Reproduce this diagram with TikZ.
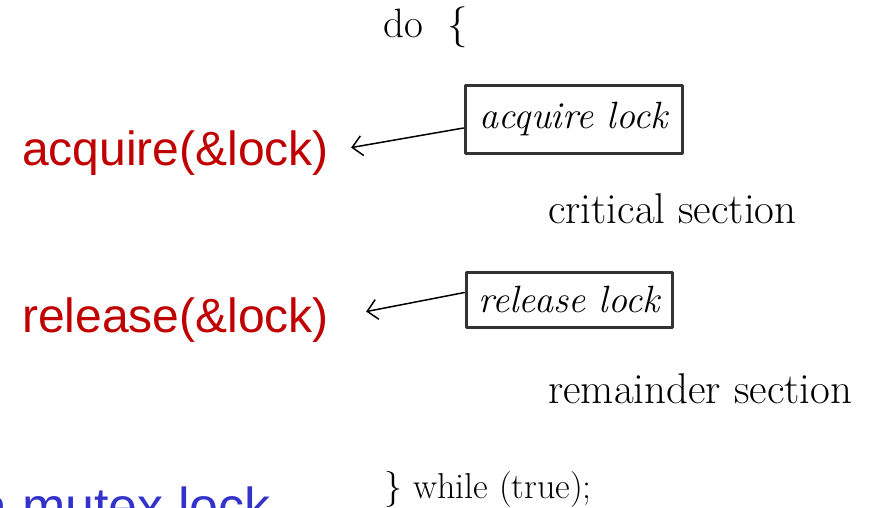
\documentclass[tikz,border=0pt]{standalone}
\usepackage{fontspec}
\newfontfamily\callfont{Liberation Sans}
\usetikzlibrary{arrows.meta}
\definecolor{callred}{HTML}{C00000}
\definecolor{noteblue}{HTML}{3333CC}
\definecolor{boxgray}{HTML}{333333}
\begin{document}
\begin{tikzpicture}[x=1pt, y=-1pt, line join=round, line cap=round,
	>={Straight Barb[length=10pt,width=20pt]},
	code/.style={font=\fontsize{43}{46}\selectfont, inner sep=0pt, anchor=base west},
	lockbox/.style={draw=boxgray, line width=3pt, inner sep=0pt, font=\fontsize{38}{42}\selectfont\itshape},
	call/.style={font=\callfont\fontsize{48}{52}\selectfont, text=callred, inner sep=0pt, anchor=base west}]
	\useasboundingbox (0,0) rectangle (886,507);
	\clip (0,0) rectangle (886,507);
	% code lines
	\node[code, font=\fontsize{41}{44}\selectfont] (do) at (383,37) {do~~\{};
	\node[code] (cs) at (548,223) {critical section};
	\node[code] (rs) at (548,403) {remainder section};
	\node[code, font=\fontsize{36}{40}\selectfont] (wh) at (384,498) {\} while (true);};
	% lock boxes
	\node[lockbox, minimum width=217pt, minimum height=68pt] (acq) at (573.5,119) {acquire lock};
	\node[lockbox, minimum width=206pt, minimum height=55pt] (rel) at (569,299.5) {release lock};
	% calls
	\node[call] (acqcall) at (22,165) {acquire(\&lock)};
	\node[call] (relcall) at (22,332) {release(\&lock)};
	\draw[->, line width=1.5pt] ([yshift=-9pt]acq.west) -- ([xshift=22pt,yshift=5pt]acqcall.east);
	\draw[->, line width=1.5pt] ([yshift=7pt]rel.west) -- ([xshift=37pt,yshift=8pt]relcall.east);
	% cut off note
	\node[call, text=noteblue, font=\callfont\fontsize{52}{56}\selectfont] (note) at (-21.5,524) {a mutex lock};
\end{tikzpicture}
\end{document}
